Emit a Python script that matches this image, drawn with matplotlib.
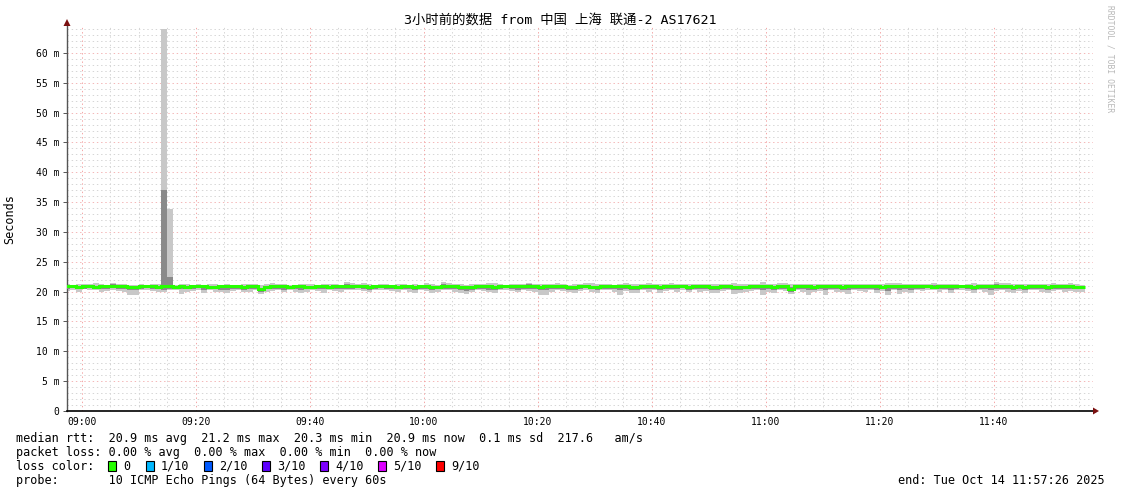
import numpy as np
import matplotlib
matplotlib.use("Agg")
import matplotlib.pyplot as plt
from matplotlib.patches import Rectangle, Polygon
from matplotlib.transforms import Affine2D

plt.rcParams['font.family'] = ['DejaVu Sans Mono', 'Noto Sans CJK SC']

W, H = 1121, 494

# chart text
title = "3小时前的数据 from 中国 上海 联通-2 AS17621"
y_title = "Seconds"
stats_lines = [
    "median rtt:  20.9 ms avg  21.2 ms max  20.3 ms min  20.9 ms now  0.1 ms sd  217.6   am/s",
    "packet loss: 0.00 % avg  0.00 % max  0.00 % min  0.00 % now",
    "loss color:",
    "probe:       10 ICMP Echo Pings (64 Bytes) every 60s",
]
end_text = "end: Tue Oct 14 11:57:26 2025"
loss_labels = ["0", "1/10", "2/10", "3/10", "4/10", "5/10", "9/10"]
loss_colors = ["#26ff00", "#00b8ff", "#0059ff", "#5e00ff", "#7e00ff", "#dd00ff", "#ff0000"]

# time axis in minutes after 09:00 (window 08:57:26 .. 11:57:26)
t_start = -2.567
t_end = 177.433
first_bar = -3
x_ticks = [0, 20, 40, 60, 80, 100, 120, 140, 160]
x_tick_labels = ["09:00", "09:20", "09:40", "10:00", "10:20", "10:40", "11:00", "11:20", "11:40"]
y_ticks = [0, 5, 10, 15, 20, 25, 30, 35, 40, 45, 50, 55, 60]
y_tick_labels = ["0", "5 m", "10 m", "15 m", "20 m", "25 m", "30 m", "35 m",
                 "40 m", "45 m", "50 m", "55 m", "60 m"]

# one value per minute, milliseconds
median_ms = [
    20.9, 20.9, 20.8, 20.9, 20.9, 20.8, 20.9, 20.9, 21.0, 20.9,
    20.9, 20.8, 20.8, 20.9, 20.9, 20.9, 20.8, 20.9, 20.9, 20.8,
    20.9, 20.8, 20.9, 20.9, 20.9, 20.8, 20.8, 20.9, 20.9, 20.9,
    20.9, 20.8, 20.9, 20.9, 20.5, 20.8, 20.9, 20.9, 20.9, 20.8,
    20.9, 20.9, 20.8, 20.8, 20.9, 20.9, 20.8, 20.9, 20.9, 21.0,
    20.9, 20.9, 20.9, 20.8, 20.9, 20.9, 20.9, 20.9, 20.8, 20.9,
    20.9, 20.8, 20.9, 20.9, 20.8, 20.8, 20.9, 20.9, 20.9, 20.8,
    20.7, 20.8, 20.9, 20.9, 20.9, 20.8, 20.9, 20.9, 20.9, 20.9,
    20.9, 21.0, 20.9, 20.8, 20.9, 20.9, 20.9, 20.9, 20.8, 20.8,
    20.9, 20.9, 20.8, 20.8, 20.9, 20.9, 20.9, 20.9, 20.9, 20.8,
    20.8, 20.9, 20.9, 20.9, 20.8, 20.9, 20.9, 20.9, 20.9, 20.8,
    20.9, 20.9, 20.9, 20.8, 20.8, 20.9, 20.9, 20.7, 20.7, 20.8,
    20.9, 20.9, 20.9, 20.9, 20.8, 20.9, 21.0, 20.5, 20.9, 20.9,
    20.9, 20.8, 20.9, 20.9, 20.9, 20.9, 20.8, 20.9, 20.9, 20.9,
    20.9, 20.9, 20.9, 20.8, 20.9, 20.9, 20.9, 20.9, 21.0, 21.0,
    20.9, 20.9, 20.8, 20.9, 20.9, 20.9, 20.9, 20.9, 20.9, 20.8,
    20.9, 20.9, 20.9, 21.0, 20.9, 20.9, 20.8, 20.9, 20.8, 20.9,
    20.9, 20.9, 20.8, 20.9, 21.0, 20.9, 20.9, 20.8, 20.8,
]
smoke_lo = [
    20.1, 20.2, 20.0, 20.4, 20.2, 20.3, 20.0, 20.1, 20.2, 20.1,
    20.0, 19.4, 19.4, 20.2, 20.3, 20.1, 20.0, 19.9, 20.2, 20.3,
    19.6, 20.0, 20.1, 20.3, 19.8, 20.2, 19.9, 20.0, 19.7, 20.1,
    20.2, 19.9, 20.0, 20.2, 19.6, 20.0, 20.1, 20.2, 19.9, 20.3,
    20.0, 19.7, 20.0, 20.2, 20.1, 19.8, 20.3, 20.1, 20.0, 20.2,
    20.2, 20.3, 20.1, 19.9, 20.2, 20.3, 20.2, 20.1, 20.0, 20.2,
    19.9, 19.8, 20.2, 20.1, 19.8, 20.0, 20.2, 20.2, 19.9, 19.7,
    19.6, 20.0, 20.2, 20.1, 19.9, 19.8, 20.2, 20.3, 20.1, 19.9,
    20.2, 20.1, 20.0, 19.5, 19.4, 20.0, 20.2, 20.1, 19.9, 19.7,
    20.1, 20.3, 20.0, 19.8, 20.2, 20.2, 19.9, 19.5, 20.1, 19.8,
    19.8, 20.2, 20.0, 20.2, 19.7, 20.1, 20.2, 20.0, 20.3, 19.9,
    20.2, 19.9, 20.1, 19.7, 19.8, 20.1, 20.2, 19.6, 19.7, 20.0,
    20.1, 20.2, 19.5, 20.0, 19.8, 20.2, 20.1, 19.6, 20.2, 20.0,
    19.5, 19.9, 20.1, 19.5, 20.2, 20.0, 19.9, 19.6, 20.2, 20.1,
    20.0, 20.2, 19.8, 20.1, 19.5, 20.2, 19.6, 20.0, 19.7, 20.2,
    20.1, 20.3, 20.2, 20.0, 20.2, 19.8, 20.2, 20.3, 20.1, 19.7,
    20.2, 20.0, 19.5, 20.1, 20.2, 19.9, 19.7, 20.1, 19.8, 20.2,
    20.2, 20.0, 19.8, 20.1, 20.2, 19.9, 20.1, 19.9, 20.0,
]
smoke_hi = [
    21.2, 21.1, 21.3, 21.2, 21.3, 21.4, 21.2, 21.1, 21.4, 21.3,
    21.2, 21.1, 21.1, 21.2, 21.1, 21.2, 21.2, 64.0, 33.8, 21.1,
    21.2, 21.3, 21.1, 21.2, 21.1, 21.3, 21.2, 21.1, 21.2, 21.1,
    21.1, 21.2, 21.3, 21.2, 21.1, 21.2, 21.4, 21.3, 21.2, 21.1,
    21.1, 21.2, 21.3, 21.2, 21.1, 21.2, 21.2, 21.3, 21.1, 21.6,
    21.5, 21.2, 21.4, 21.3, 21.1, 21.2, 21.2, 21.1, 21.2, 21.2,
    21.1, 21.2, 21.1, 21.4, 21.2, 21.1, 21.7, 21.4, 21.2, 21.3,
    21.1, 21.2, 21.2, 21.2, 21.4, 21.4, 21.3, 21.1, 21.2, 21.2,
    21.2, 21.5, 21.3, 21.2, 21.2, 21.3, 21.4, 21.3, 21.1, 21.2,
    21.2, 21.5, 21.4, 21.2, 21.2, 21.3, 21.1, 21.2, 21.4, 21.3,
    21.2, 21.2, 21.4, 21.3, 21.2, 21.3, 21.4, 21.2, 21.2, 21.3,
    21.3, 21.2, 21.2, 21.3, 21.2, 21.2, 21.2, 21.4, 21.2, 21.2,
    21.2, 21.2, 21.6, 21.3, 21.2, 21.4, 21.4, 21.3, 21.2, 21.2,
    21.2, 21.3, 21.2, 21.3, 21.2, 21.2, 21.2, 21.2, 21.3, 21.2,
    21.3, 21.2, 21.3, 21.2, 21.4, 21.4, 21.4, 21.2, 21.3, 21.2,
    21.2, 21.3, 21.4, 21.2, 21.3, 21.2, 21.2, 21.1, 21.2, 21.4,
    21.3, 21.2, 21.3, 21.6, 21.4, 21.4, 21.2, 21.3, 21.2, 21.2,
    21.3, 21.2, 21.2, 21.4, 21.3, 21.2, 21.4, 21.2, 21.1,
]
inner_lo = [
    20.5, 20.6, 20.4, 20.5, 20.6, 20.4, 20.5, 20.4, 20.6, 20.5,
    20.4, 20.2, 20.3, 20.5, 20.6, 20.5, 20.4, 20.3, 20.4, 20.5,
    20.4, 20.4, 20.5, 20.6, 20.3, 20.5, 20.4, 20.3, 20.2, 20.5,
    20.5, 20.3, 20.4, 20.5, 19.9, 20.4, 20.5, 20.5, 20.3, 20.5,
    20.4, 20.2, 20.4, 20.4, 20.5, 20.4, 20.5, 20.4, 20.4, 20.5,
    20.5, 20.6, 20.4, 20.3, 20.5, 20.6, 20.5, 20.5, 20.4, 20.5,
    20.4, 20.2, 20.5, 20.4, 20.3, 20.4, 20.5, 20.5, 20.4, 20.2,
    20.1, 20.3, 20.5, 20.5, 20.3, 20.2, 20.5, 20.6, 20.4, 20.3,
    20.5, 20.5, 20.4, 20.2, 20.3, 20.4, 20.5, 20.5, 20.3, 20.2,
    20.5, 20.6, 20.4, 20.2, 20.5, 20.5, 20.4, 20.2, 20.4, 20.3,
    20.3, 20.5, 20.4, 20.5, 20.2, 20.5, 20.5, 20.4, 20.6, 20.3,
    20.5, 20.4, 20.5, 20.2, 20.3, 20.5, 20.5, 20.2, 20.2, 20.4,
    20.5, 20.5, 20.3, 20.4, 20.3, 20.5, 20.5, 19.9, 20.5, 20.4,
    20.2, 20.3, 20.5, 20.2, 20.5, 20.4, 20.3, 20.2, 20.5, 20.5,
    20.4, 20.5, 20.3, 20.4, 20.1, 20.5, 20.2, 20.4, 20.3, 20.5,
    20.5, 20.6, 20.5, 20.4, 20.5, 20.3, 20.5, 20.6, 20.5, 20.2,
    20.5, 20.4, 20.2, 20.5, 20.5, 20.4, 20.2, 20.5, 20.3, 20.5,
    20.5, 20.4, 20.3, 20.5, 20.5, 20.4, 20.5, 20.4, 20.4,
]
inner_hi = [
    21.0, 21.0, 20.9, 21.0, 21.1, 20.9, 21.0, 21.0, 21.2, 21.0,
    21.0, 20.9, 20.9, 21.0, 21.0, 21.0, 20.9, 37.0, 22.5, 20.9,
    21.0, 20.9, 21.0, 21.0, 21.0, 20.9, 20.9, 21.0, 21.0, 21.0,
    21.0, 20.9, 21.0, 21.0, 20.6, 20.9, 21.1, 21.0, 21.0, 20.9,
    21.0, 21.0, 20.9, 20.9, 21.0, 21.0, 20.9, 21.0, 21.0, 21.2,
    21.1, 21.0, 21.1, 20.9, 21.0, 21.0, 21.0, 21.0, 20.9, 21.0,
    21.0, 20.9, 21.0, 21.1, 20.9, 20.9, 21.3, 21.1, 21.0, 20.9,
    20.8, 20.9, 21.0, 21.0, 21.1, 21.0, 21.0, 21.0, 21.0, 21.0,
    21.0, 21.2, 21.0, 20.9, 21.0, 21.0, 21.1, 21.0, 20.9, 20.9,
    21.0, 21.1, 21.0, 20.9, 21.0, 21.0, 21.0, 21.0, 21.1, 20.9,
    20.9, 21.0, 21.1, 21.0, 20.9, 21.0, 21.1, 21.0, 21.0, 20.9,
    21.0, 21.0, 21.0, 20.9, 20.9, 21.0, 21.0, 20.9, 20.8, 20.9,
    21.0, 21.0, 21.1, 21.0, 20.9, 21.1, 21.1, 20.7, 21.0, 21.0,
    21.0, 20.9, 21.0, 21.0, 21.0, 21.0, 20.9, 21.0, 21.0, 21.0,
    21.0, 21.0, 21.0, 20.9, 21.1, 21.1, 21.1, 21.0, 21.1, 21.1,
    21.0, 21.0, 21.1, 21.0, 21.0, 21.0, 21.0, 21.0, 21.0, 21.0,
    21.0, 21.0, 21.0, 21.2, 21.1, 21.0, 20.9, 21.0, 20.9, 21.0,
    21.0, 21.0, 20.9, 21.1, 21.1, 21.0, 21.0, 20.9, 20.9,
]

fig = plt.figure(figsize=(W / 100, H / 100), dpi=100)
fig.patch.set_facecolor("white")

# pixel coordinates (origin top-left) -> figure
px = Affine2D().scale(1 / W, -1 / H).translate(0, 1) + fig.transFigure

ax_left, ax_right, ax_top, ax_bottom = 67, 1093, 26, 411
ax = fig.add_axes([ax_left / W, 1 - ax_bottom / H,
                   (ax_right - ax_left) / W, (ax_bottom - ax_top) / H])
ax.set_xlim(t_start, t_end)
ax.set_ylim(0, (ax_bottom - ax_top) / 5.967)

# grid: minor grey, major red, both dotted
dots = (0, (1.4, 2.8))
for v in range(1, 65):
    if v % 5:
        ax.axhline(v, color="#d6d6d6", lw=0.72, ls=dots, zorder=0)
    else:
        ax.axhline(v, color="#f4b8b8", lw=0.72, ls=dots, zorder=0)
for m in range(0, 180, 5):
    if m % 20:
        ax.axvline(m, color="#d6d6d6", lw=0.72, ls=dots, zorder=0)
    else:
        ax.axvline(m, color="#f4a8a8", lw=0.72, ls=dots, zorder=0)

edges = np.arange(len(median_ms) + 1) + first_bar
ax.stairs(smoke_hi, edges, baseline=smoke_lo, fill=True, color="#c8c8c8", zorder=2)
ax.stairs(inner_hi, edges, baseline=inner_lo, fill=True, color="#8a8a8a", zorder=3)
ax.stairs(median_ms, edges, baseline=None, color="#26ff00", lw=2.2, zorder=4)

# axes styling
for s in ["top", "right"]:
    ax.spines[s].set_visible(False)
ax.spines["left"].set_color("#555555")
ax.spines["left"].set_linewidth(1.0)
ax.spines["bottom"].set_color("black")
ax.spines["bottom"].set_linewidth(1.2)
ax.set_xticks(x_ticks)
ax.set_xticklabels(x_tick_labels)
ax.set_yticks(y_ticks)
ax.set_yticklabels(y_tick_labels)
ax.tick_params(axis="y", length=3, width=0.7, color="#555555", pad=2.5, labelsize=7)
ax.tick_params(axis="x", length=0, pad=4, labelsize=7)

# arrow heads
fig.add_artist(Polygon([[63.5, 26], [70.5, 26], [67, 19]], closed=True,
                       transform=px, color="#7a1010", lw=0))
fig.add_artist(Polygon([[1093, 407.5], [1093, 414.5], [1099, 411]], closed=True,
                       transform=px, color="#7a1010", lw=0))

# title and axis label
fig.text(560 / W, 1 - 21 / H, title, ha="center", va="center", fontsize=9.6)
fig.text(10 / W, 1 - 219 / H, y_title, ha="center", va="center", rotation=90, fontsize=8.5)
fig.text(1110 / W, 1 - 5 / H, "RRDTOOL / TOBI OETIKER", ha="center", va="top",
         rotation=-90, fontsize=5.8, color="#b8b8b8")

# legend lines
line_y = [438, 452, 466, 480]
for txt, yy in zip(stats_lines, line_y):
    fig.text(16 / W, 1 - yy / H, txt, ha="left", va="center", fontsize=8.5)
fig.text(1105 / W, 1 - 480 / H, end_text, ha="right", va="center", fontsize=8.5)

box_x = [108, 146, 204, 262, 320, 378, 436]
for bx, lab, col in zip(box_x, loss_labels, loss_colors):
    fig.add_artist(Rectangle((bx, 471), 8, -10, transform=px, facecolor=col,
                             edgecolor="black", lw=0.8))
    fig.text((bx + 15) / W, 1 - 466 / H, lab, ha="left", va="center", fontsize=8.5)

fig.savefig("out.png", dpi=100)
